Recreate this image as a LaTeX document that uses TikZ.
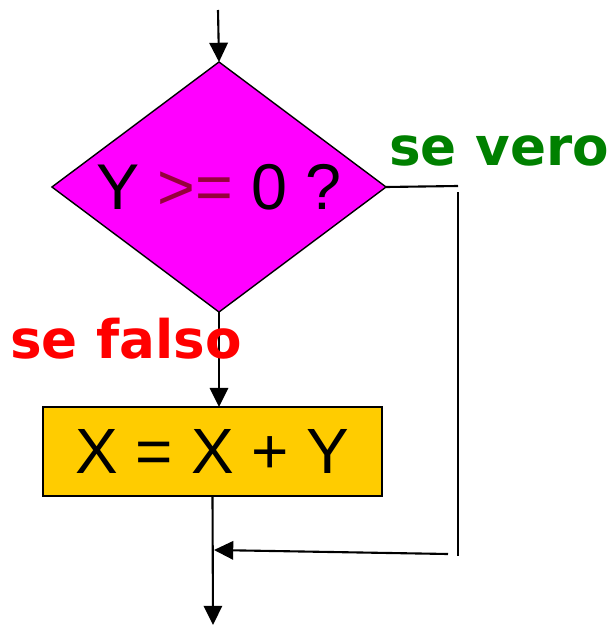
\documentclass[tikz,border=0pt]{standalone}
\usepackage{fontspec}
\setmainfont{Liberation Sans}
\newfontfamily\labelfont{DejaVu Sans}
\usetikzlibrary{arrows.meta, shapes.geometric}
\definecolor{testcol}{RGB}{255,0,255}
\definecolor{opcol}{RGB}{150,0,60}
\definecolor{boxcol}{RGB}{255,204,0}
\definecolor{truecol}{RGB}{0,128,0}
\definecolor{falsecol}{RGB}{255,0,0}
\tikzset{
  flow/.style={line width=1.5pt, -{Triangle[length=0.48cm, width=0.46cm]}},
  plain/.style={line width=1.5pt},
  branchlabel/.style={font=\labelfont\bfseries\fontsize{37.8}{44}\selectfont, inner sep=0pt}
}
\begin{document}
\begin{tikzpicture}[x=0.025cm, y=-0.025cm]

  % --- canvas ------------------------------------------------------------
  \useasboundingbox (0,0) rectangle (611,630);

  % --- decision and statement ------------------------------------------
  \node[diamond, aspect=1.336, draw, line width=1pt, fill=testcol,
        inner sep=0pt, outer sep=0pt,
        minimum width=8.35cm, minimum height=6.25cm,
        font=\fontsize{46}{54}\selectfont] (Test) at (219,187)
        {Y \textcolor{opcol}{>=} 0 ?};
  \node[rectangle, draw, line width=1pt, fill=boxcol, outer sep=0pt,
        minimum width=8.475cm, minimum height=2.225cm,
        font=\fontsize{45.5}{54}\selectfont] (Assign) at (212.5,451.5)
        {X = X + Y};

  % --- free ends -----------------------------------------------------------
  \coordinate (In) at (218,10);
  \coordinate (Out) at (213,625);
  \coordinate (TrueEnd) at (458,186);
  \coordinate (TrueTop) at (458,192);
  \coordinate (TrueBot) at (458,556);
  \coordinate (BackFrom) at (448,554);
  \coordinate (Join) at (214,550);

  % --- connectors ----------------------------------------------------------
  \draw[flow] (In) -- (Test.north);
  \draw[flow] (Test.south) -- (Assign.north -| Test.south);
  \draw[plain] (Test.east) -- (TrueEnd);
  \draw[plain] (TrueTop) -- (TrueBot);
  \draw[flow] (BackFrom) -- (Join);
  \draw[flow] (Assign.south) -- (Out);

  % --- branch labels -------------------------------------------------------
  \node[branchlabel, text=truecol, anchor=base west] (TrueLbl) at (389,165) {se vero};
  \node[branchlabel, text=falsecol, anchor=base west] (FalseLbl) at (10,358) {se falso};

\end{tikzpicture}
\end{document}
